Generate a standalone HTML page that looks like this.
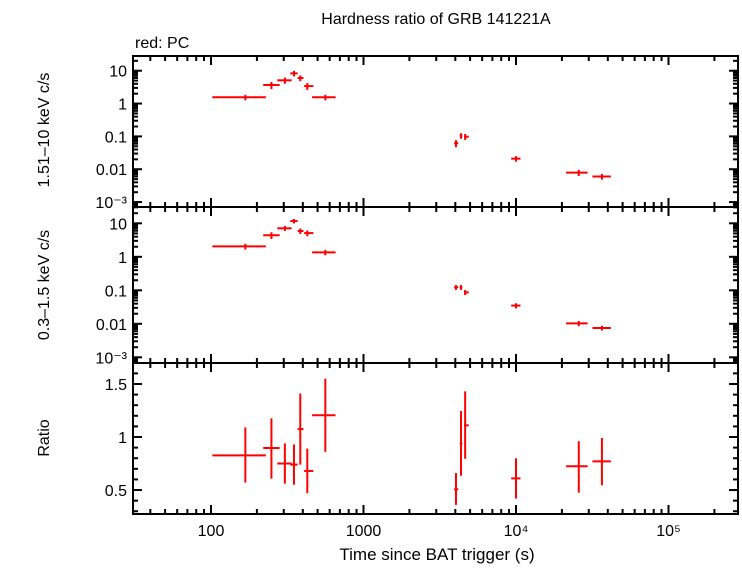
<!DOCTYPE html>
<html><head><meta charset="utf-8"><style>
html,body{margin:0;padding:0;background:#fff}
svg text{font-family:"Liberation Sans",sans-serif;fill:#000}
</style></head><body>
<svg id="chart" width="742" height="566" xmlns="http://www.w3.org/2000/svg">
<text x="436" y="24" font-size="16" text-anchor="middle">Hardness ratio of GRB 141221A</text>
<text x="135" y="48" font-size="16">red: PC</text>
<text x="437" y="560" font-size="17" text-anchor="middle">Time since BAT trigger (s)</text>
<text transform="translate(49,130) rotate(-90)" font-size="16" text-anchor="middle">1.51–10 keV c/s</text>
<text transform="translate(49,285) rotate(-90)" font-size="16" text-anchor="middle">0.3–1.5 keV c/s</text>
<text transform="translate(49,438) rotate(-90)" font-size="16" text-anchor="middle">Ratio</text>
</svg>
<script>
// data
const times = [168,249,305,350,385,428,562,4040,4360,4640,10000,25800,36600];
const tLo   = [102,220,272,331,370,408,460,3930,4270,4560,9300,21300,31700];
const tHi   = [229,282,338,370,404,469,656,4180,4450,4900,10700,29500,41900];
const hard  = [1.55,3.66,5.1,8.3,6.0,3.4,1.55,0.062,0.105,0.098,0.021,0.0079,0.006];
const hardErr=[0.3,0.9,1.1,1.6,1.2,0.8,0.3,0.015,0.02,0.02,0.004,0.0017,0.0012];
const soft  = [2.05,4.4,7.1,11.7,5.9,5.1,1.36,0.123,0.123,0.087,0.035,0.0103,0.0075];
const softErr=[0.4,1.0,1.2,1.8,1.1,1.0,0.25,0.02,0.02,0.015,0.006,0.0018,0.0012];
const ratio = [0.827,0.896,0.75,0.74,1.075,0.68,1.205,0.507,0.94,1.11,0.61,0.724,0.77];
const ratioLo=[0.57,0.607,0.56,0.55,0.74,0.47,0.86,0.36,0.635,0.795,0.42,0.475,0.545];
const ratioHi=[1.09,1.176,0.94,0.93,1.41,0.89,1.55,0.66,1.245,1.43,0.80,0.96,0.99];
const logTickLabels=["10\u207B\u00B3","0.01","0.1","1","10"];
const ratioTickLabels=["0.5","1","1.5"];
const xTickLabels=["100","1000","10\u2074","10\u2075"];

const svg=document.getElementById('chart');
const NS='http://www.w3.org/2000/svg';
const L=133,R=738;
const P=[{top:56,bot:207,lmin:-3.15,lmax:1.448},{top:207,bot:363,lmin:-3.17,lmax:1.487},{top:363,bot:514,min:0.274,max:1.698}];
function X(t){return 211+152.5*(Math.log10(t)-2);}
function YL(p,v){return p.bot-(Math.log10(v)-p.lmin)/(p.lmax-p.lmin)*(p.bot-p.top);}
function YR(p,v){return p.bot-(v-p.min)/(p.max-p.min)*(p.bot-p.top);}
function line(x1,y1,x2,y2,c,w,name){const l=document.createElementNS(NS,'line');
l.setAttribute('x1',x1);l.setAttribute('y1',y1);l.setAttribute('x2',x2);l.setAttribute('y2',y2);
l.setAttribute('stroke',c);l.setAttribute('stroke-width',w);


svg.appendChild(l);return l;}
function text(x,y,s,anchor,name){const t=document.createElementNS(NS,'text');
t.setAttribute('x',x);t.setAttribute('y',y);t.setAttribute('font-size','16');t.setAttribute('text-anchor',anchor);t.textContent=s;


svg.appendChild(t);}
// frames and ticks
P.forEach((p,i)=>{
  const r=document.createElementNS(NS,'rect');
  r.setAttribute('x',L);r.setAttribute('y',p.top);r.setAttribute('width',R-L);r.setAttribute('height',p.bot-p.top);
  r.setAttribute('fill','none');r.setAttribute('stroke','#000');r.setAttribute('stroke-width','2');
  
  
  svg.appendChild(r);
  for(let d=1;d<=5;d++)for(let m=1;m<10;m++){const t=m*Math.pow(10,d);const x=X(t);if(x<=L||x>=R)continue;
    const len=m===1?9:5;line(x,p.top,x,p.top+len,'#000',2,'x-tick');line(x,p.bot,x,p.bot-len,'#000',2,'x-tick');}
  if(i<2){for(let d=-4;d<=1;d++)for(let m=1;m<10;m++){const v=m*Math.pow(10,d);const y=YL(p,v);if(y<=p.top||y>=p.bot)continue;
    const len=m===1?9:5;line(L,y,L+len,y,'#000',2,'y-tick');line(R,y,R-len,y,'#000',2,'y-tick');}
    logTickLabels.forEach((s,k)=>text(L-6,YL(p,Math.pow(10,k-3))+6,s,'end','y-tick-label'));
  } else {for(let k=3;k<=16;k++){const v=k/10;const y=YR(p,v);const len=(k%5===0)?9:5;
    line(L,y,L+len,y,'#000',2,'y-tick');line(R,y,R-len,y,'#000',2,'y-tick');}
    ratioTickLabels.forEach((s,k)=>text(L-6,YR(p,0.5+0.5*k)+6,s,'end','y-tick-label'));}
});
xTickLabels.forEach((s,k)=>text(X(Math.pow(10,k+2)),536,s,'middle','x-tick-label'));
// data
const red='#ff0000';
times.forEach((t,i)=>{
  const x=X(t),x1=X(tLo[i]),x2=X(tHi[i]);
  let y=YL(P[0],hard[i]);line(x1,y,x2,y,red,2,'hard-point');
  line(x,YL(P[0],hard[i]+hardErr[i]),x,YL(P[0],hard[i]-hardErr[i]),red,2,'hard-errbar');
  y=YL(P[1],soft[i]);line(x1,y,x2,y,red,2,'soft-point');
  line(x,YL(P[1],soft[i]+softErr[i]),x,YL(P[1],soft[i]-softErr[i]),red,2,'soft-errbar');
  y=YR(P[2],ratio[i]);line(x1,y,x2,y,red,2,'ratio-point');
  line(x,YR(P[2],ratioHi[i]),x,YR(P[2],ratioLo[i]),red,2,'ratio-errbar');
});
</script>
</body></html>
